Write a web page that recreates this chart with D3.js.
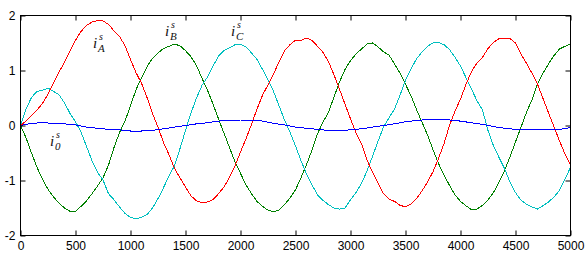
<!DOCTYPE html>
<html>
<head>
<meta charset="utf-8">
<script src="https://cdn.jsdelivr.net/npm/d3@7"></script>
<style>
  body { margin: 0; background: #fff; }
  .tick text { font-family: Arial, "Liberation Sans", sans-serif; }
  .lab text { font-family: "Liberation Serif", "Times New Roman", serif; font-style: italic; }
</style>
</head>
<body>
<svg id="chart" width="588" height="263"></svg>
<script>
// sample positions (every 50 units) and the phase currents
const steps = d3.range(0, 5001, 50);
const steps0 = d3.range(0, 5001, 100);

const iA = [0, 0.08, 0.18, 0.28, 0.40, 0.57, 0.78, 0.97, 1.15, 1.36,
  1.55, 1.71, 1.82, 1.88, 1.91, 1.90, 1.84, 1.72, 1.62, 1.45,
  1.20, 0.96, 0.77, 0.51, 0.22, -0.03, -0.31, -0.53, -0.78, -0.95,
  -1.12, -1.28, -1.37, -1.40, -1.39, -1.35, -1.24, -1.12, -0.94, -0.73,
  -0.48, -0.24, 0.02, 0.30, 0.55, 0.74, 0.93, 1.16, 1.36, 1.47,
  1.55, 1.55, 1.59, 1.55, 1.44, 1.33, 1.16, 0.92, 0.66, 0.39,
  0.12, -0.13, -0.33, -0.63, -0.85, -1.05, -1.24, -1.34, -1.38, -1.45,
  -1.48, -1.43, -1.33, -1.19, -1.03, -0.84, -0.60, -0.33, 0.00, 0.26,
  0.48, 0.75, 0.98, 1.14, 1.24, 1.40, 1.51, 1.58, 1.59, 1.58,
  1.50, 1.30, 1.13, 0.95, 0.75, 0.49, 0.23, -0.02, -0.28, -0.52,
  -0.72];

const iB = [0, -0.22, -0.50, -0.76, -0.98, -1.16, -1.30, -1.41, -1.50, -1.56,
  -1.56, -1.47, -1.37, -1.24, -1.10, -0.95, -0.72, -0.40, -0.13, 0.08,
  0.36, 0.65, 0.87, 1.07, 1.22, 1.32, 1.40, 1.44, 1.48, 1.45,
  1.36, 1.25, 1.09, 0.86, 0.64, 0.39, 0.12, -0.14, -0.40, -0.66,
  -0.87, -1.08, -1.24, -1.38, -1.47, -1.54, -1.57, -1.54, -1.44, -1.32,
  -1.17, -0.95, -0.71, -0.45, -0.15, 0.06, 0.24, 0.52, 0.79, 1.02,
  1.18, 1.30, 1.39, 1.48, 1.50, 1.43, 1.34, 1.28, 1.12, 0.95,
  0.75, 0.54, 0.29, 0.06, -0.17, -0.44, -0.69, -0.90, -1.09, -1.26,
  -1.38, -1.46, -1.53, -1.52, -1.45, -1.35, -1.22, -1.03, -0.82, -0.57,
  -0.30, -0.03, 0.24, 0.47, 0.76, 0.95, 1.12, 1.27, 1.39, 1.44,
  1.48];

const iC = [0, 0.30, 0.51, 0.62, 0.64, 0.68, 0.62, 0.56, 0.41, 0.22,
  0.07, -0.12, -0.38, -0.64, -0.85, -0.99, -1.24, -1.35, -1.48, -1.60,
  -1.67, -1.70, -1.67, -1.62, -1.50, -1.33, -1.13, -0.92, -0.73, -0.42,
  -0.09, 0.23, 0.50, 0.73, 0.88, 1.08, 1.26, 1.36, 1.41, 1.47,
  1.48, 1.43, 1.32, 1.20, 1.02, 0.83, 0.62, 0.36, 0.10, -0.12,
  -0.37, -0.64, -0.88, -1.08, -1.26, -1.36, -1.44, -1.50, -1.52, -1.50,
  -1.35, -1.22, -1.05, -0.83, -0.56, -0.29, -0.03, 0.14, 0.30, 0.55,
  0.82, 1.03, 1.21, 1.34, 1.44, 1.50, 1.51, 1.47, 1.38, 1.24,
  1.08, 0.87, 0.66, 0.45, 0.28, -0.09, -0.37, -0.58, -0.78, -1.03,
  -1.22, -1.36, -1.43, -1.48, -1.52, -1.46, -1.39, -1.30, -1.18, -0.98,
  -0.76];

// zero-sequence current, every 100 units
const i0 = [0, 0.04, 0.05, 0.04, 0.03, 0.01, -0.03, -0.05, -0.07, -0.08,
  -0.10, -0.10, -0.09, -0.06, -0.03, 0.00, 0.03, 0.05, 0.08, 0.09,
  0.10, 0.10, 0.08, 0.04, 0.01, -0.03, -0.05, -0.07, -0.09, -0.09,
  -0.08, -0.06, -0.03, 0.00, 0.03, 0.07, 0.09, 0.11, 0.11, 0.10,
  0.08, 0.05, 0.02, -0.02, -0.05, -0.07, -0.08, -0.08, -0.08, -0.07,
  -0.04];

const xTicks = d3.range(0, 5001, 500);
const yTicks = [-2, -1, 0, 1, 2];

const svg = d3.select("#chart");
const box = { left: 20.5, right: 570.5, top: 15.5, bottom: 235.5 };

const x = d3.scaleLinear().domain([0, 5000]).range([box.left, box.right]);
const y = d3.scaleLinear().domain([-2, 2]).range([box.bottom, box.top]);

const series = [
    { vals: iB, xs: steps, color: "#008000" },
    { vals: iC, xs: steps, color: "#00bfbf" },
    { vals: iA, xs: steps, color: "#ff0000" },
    { vals: i0, xs: steps0, color: "#0000ff" }
];

const line = d3.line()
    .x(d => x(d[0]))
    .y(d => y(d[1]));

svg.selectAll("path.curve").data(series)
    .join("path")
    .attr("class", "curve")
    .attr("d", s => line(s.xs.map((v, i) => [v, s.vals[i]])))
    .attr("fill", "none")
    .attr("stroke", s => s.color)
    .attr("stroke-width", 1)
    .attr("shape-rendering", "crispEdges");

// axes: ticks point inward, mirrored on top and right
const tickLen = 5;
const fmt = d => String(d);
svg.append("g")
    .attr("transform", "translate(0," + box.bottom + ")")
    .call(d3.axisBottom(x).tickValues(xTicks).tickFormat(fmt).tickSizeInner(-tickLen).tickSizeOuter(0).tickPadding(6));
svg.append("g")
    .attr("transform", "translate(0," + box.top + ")")
    .call(d3.axisTop(x).tickValues(xTicks).tickSizeInner(-tickLen).tickSizeOuter(0).tickFormat(""));
svg.append("g")
    .attr("transform", "translate(" + box.left + ",0)")
    .call(d3.axisLeft(y).tickValues(yTicks).tickFormat(fmt).tickSizeInner(-tickLen).tickSizeOuter(0).tickPadding(5));
svg.append("g")
    .attr("transform", "translate(" + box.right + ",0)")
    .call(d3.axisRight(y).tickValues(yTicks).tickSizeInner(-tickLen).tickSizeOuter(0).tickFormat(""));

svg.selectAll(".tick text")
    .attr("font-size", 12)
    .attr("fill", "#000");
svg.selectAll(".domain").remove();

svg.append("rect")
    .attr("x", box.left).attr("y", box.top)
    .attr("width", box.right - box.left).attr("height", box.bottom - box.top)
    .attr("fill", "none")
    .attr("stroke", "#000")
    .attr("stroke-width", 1);

// curve labels i^s with subscripts
const labels = [
    { sub: "A", px: 93, py: 48 },
    { sub: "B", px: 165, py: 36 },
    { sub: "C", px: 231, py: 36 },
    { sub: "0", px: 50, py: 146 }
];

const lab = svg.selectAll("g.lab").data(labels)
    .join("g")
    .attr("class", "lab")
    .attr("transform", d => "translate(" + d.px + "," + d.py + ")")
    .attr("fill", "#111");
lab.append("text").attr("font-size", 15).text("i");
lab.append("text").attr("font-size", 10).attr("x", 6).attr("y", -8).text("s");
lab.append("text").attr("font-size", 11).attr("x", 5).attr("y", 4).text(d => d.sub);
</script>
</body>
</html>
